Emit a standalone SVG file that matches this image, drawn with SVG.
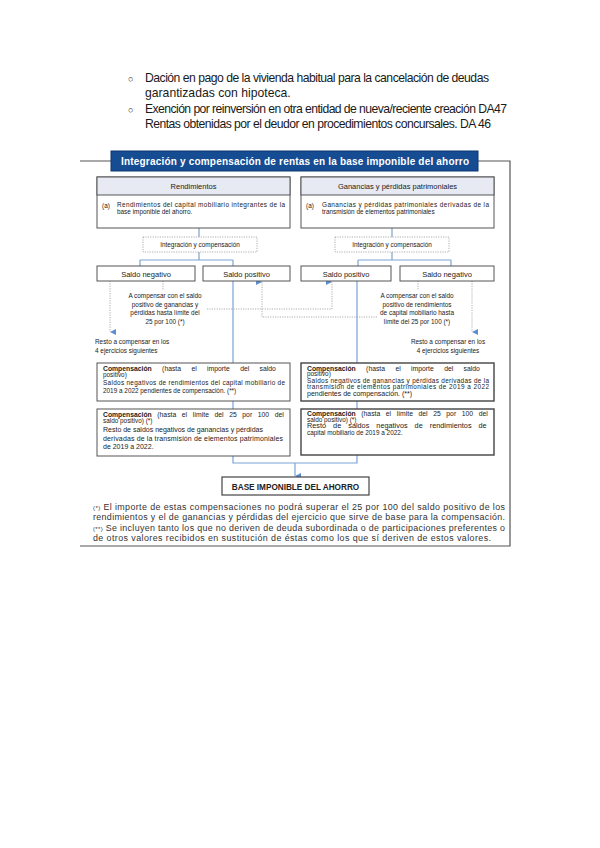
<svg xmlns="http://www.w3.org/2000/svg" width="600" height="848" viewBox="0 0 600 848">
<defs>
<style>
text{font-family:"Liberation Sans",Arial,sans-serif;fill:#222}
.top{font-size:12.2px;fill:#1a1a1a}
.box{fill:#fff;stroke:#555;stroke-width:1}
.boxd{fill:#fff;stroke:#444;stroke-width:1.4}
.hdr{fill:#e7e9f3;stroke:#555;stroke-width:1}
.dot{fill:none;stroke:#999;stroke-width:0.8;stroke-dasharray:1.2 1.2}
.blue{fill:none;stroke:#7aa3d6;stroke-width:1.2}
.frame{fill:none;stroke:#555;stroke-width:1.2}
.s7{font-size:7.5px}
.s6{font-size:6.4px}
.s68{font-size:6.8px}
.s8{font-size:8.9px;fill:#333}
.c{text-anchor:middle}
.b{font-weight:bold}
</style>
<marker id="ah" viewBox="0 0 10 10" refX="5" refY="10" markerWidth="6" markerHeight="6" orient="auto-start-reverse" markerUnits="userSpaceOnUse">
<path d="M0,0 L10,0 L5,10 z" fill="#5a8ed0"/>
</marker>
</defs>
<rect width="600" height="848" fill="#fff"/>

<g id="bullets">
<text class="top" x="128" y="82" style="font-size:9px">○</text>
<text class="top" x="145" y="82" textLength="344" lengthAdjust="spacing">Dación en pago de la vivienda habitual para la cancelación de deudas</text>
<text class="top" x="145" y="97">garantizadas con hipoteca.</text>
<text class="top" x="128" y="113" style="font-size:9px">○</text>
<text class="top" x="145" y="113" textLength="362" lengthAdjust="spacing">Exención por reinversión en otra entidad de nueva/reciente creación DA47</text>
<text class="top" x="145" y="128" textLength="346" lengthAdjust="spacing">Rentas obtenidas por el deudor en procedimientos concursales. DA 46</text>
</g>

<g id="frame">
<path class="frame" d="M80,161 H111 M478,161 H510 V546 H80"/>
</g>
<g id="title">
<rect x="111" y="151" width="367" height="20" fill="#154c92" stroke="#0c3670" stroke-width="1"/>
<text x="121" y="165" style="font-size:10px;font-weight:bold;fill:#fff" textLength="348" lengthAdjust="spacing">Integración y compensación de rentas en la base imponible del ahorro</text>
</g>

<g id="connectors">
<path class="blue" d="M199,228 V237 M199,252 V260 M140,260 H233 M140,260 V266 M233,260 V266"/>
<path class="blue" d="M392,228 V237 M392,252 V260 M358,260 H451 M358,260 V266 M451,260 V266"/>
<path class="blue" d="M233,281 V463 H357 V281"/>
<path class="blue" d="M295,463 V476" marker-end="url(#ah)"/>
<path class="dot" d="M163,281 V290"/>
<path class="dot" d="M110,281 V332" marker-end="url(#ah)"/>
<path class="dot" d="M418,281 V290"/>
<path class="dot" d="M472,281 V332" marker-end="url(#ah)"/>
<path class="dot" d="M207,309 H332 V282" marker-end="url(#ah)"/>
<path class="dot" d="M377,317 H262 V282" marker-end="url(#ah)"/>
</g>

<g id="rendimientos">
<rect class="box" x="97" y="177" width="193" height="51"/>
<rect class="hdr" x="97" y="177" width="193" height="18"/>
<text class="s7 c" x="193.5" y="189">Rendimientos</text>
<text class="s6" x="102" y="208">(a)</text>
<text class="s6" x="117" y="207" textLength="168" lengthAdjust="spacing">Rendimientos del capital mobiliario integrantes de la</text>
<text class="s6" x="117" y="214">base imponible del ahorro.</text>
</g>

<g id="ganancias">
<rect class="box" x="301" y="177" width="193" height="51"/>
<rect class="hdr" x="301" y="177" width="193" height="18"/>
<text class="s7 c" x="397.5" y="189">Ganancias y pérdidas patrimoniales</text>
<text class="s6" x="306" y="208">(a)</text>
<text class="s6" x="322" y="207" textLength="167" lengthAdjust="spacing">Ganancias y pérdidas patrimoniales derivadas de la</text>
<text class="s6" x="322" y="214">transmisión de elementos patrimoniales</text>
</g>

<g id="integ-left">
<rect x="143" y="237" width="114" height="15" fill="#fff" stroke="#999" stroke-width="0.8" stroke-dasharray="1.2 1.2"/>
<text class="s6 c" x="200" y="247">Integración y compensación</text>
</g>
<g id="integ-right">
<rect x="335" y="237" width="114" height="15" fill="#fff" stroke="#999" stroke-width="0.8" stroke-dasharray="1.2 1.2"/>
<text class="s6 c" x="392" y="247">Integración y compensación</text>
</g>

<g id="saldo-neg-left">
<rect class="box" x="97" y="266" width="98" height="15"/>
<text class="s7 c" x="146" y="276.5">Saldo negativo</text>
</g>
<g id="saldo-pos-left">
<rect class="box" x="203" y="266" width="87" height="15"/>
<text class="s7 c" x="246.5" y="276.5">Saldo positivo</text>
</g>
<g id="saldo-pos-right">
<rect class="box" x="301" y="266" width="90" height="15"/>
<text class="s7 c" x="346" y="276.5">Saldo positivo</text>
</g>
<g id="saldo-neg-right">
<rect class="box" x="400" y="266" width="94" height="15"/>
<text class="s7 c" x="447" y="276.5">Saldo negativo</text>
</g>

<g id="note-left">
<text class="s6 c" x="165" y="298">A compensar con el saldo</text>
<text class="s6 c" x="165" y="306.5">positivo de ganancias y</text>
<text class="s6 c" x="165" y="315">pérdidas hasta límite del</text>
<text class="s6 c" x="165" y="323.5">25 por 100 (*)</text>
</g>
<g id="resto-left">
<text class="s6" x="95" y="344">Resto a compensar en los</text>
<text class="s6" x="95" y="352.5">4 ejercicios siguientes</text>
</g>
<g id="note-right">
<text class="s6 c" x="417" y="298">A compensar con el saldo</text>
<text class="s6 c" x="417" y="306.5">positivo de rendimientos</text>
<text class="s6 c" x="417" y="315">de capital mobiliario hasta</text>
<text class="s6 c" x="417" y="323.5">límite del 25 por 100 (*)</text>
</g>
<g id="resto-right">
<text class="s6 c" x="448" y="344">Resto a compensar en los</text>
<text class="s6 c" x="448" y="352.5">4 ejercicios siguientes</text>
</g>

<g id="comp1-left">
<rect class="box" x="97" y="363" width="193" height="38"/>
<text class="s68" x="103" y="371" word-spacing="8.5"><tspan class="b">Compensación</tspan> (hasta el importe del saldo</text>
<text class="s6" x="103" y="377">positivo)</text>
<text class="s6" x="103" y="384.5" textLength="182" lengthAdjust="spacing">Saldos negativos de rendimientos del capital mobiliario de</text>
<text class="s6" x="103" y="392.5">2019 a 2022 pendientes de compensación. (**)</text>
</g>
<g id="comp2-left">
<rect class="box" x="97" y="409" width="193" height="47"/>
<text class="s68" x="103" y="417" word-spacing="3.7"><tspan class="b">Compensación</tspan> (hasta el límite del 25 por 100 del</text>
<text class="s6" x="103" y="423">saldo positivo) (*)</text>
<text x="103" y="432" style="font-size:7px">Resto de saldos negativos de ganancias y pérdidas</text>
<text x="103" y="440.5" style="font-size:7px" textLength="180" lengthAdjust="spacing">derivadas de la transmisión de elementos patrimoniales</text>
<text x="103" y="449" style="font-size:7px">de 2019 a 2022.</text>
</g>
<g id="comp1-right">
<rect class="boxd" x="301" y="363" width="193" height="38"/>
<text class="s68" x="307" y="370.5" word-spacing="8.5"><tspan class="b">Compensación</tspan> (hasta el importe del saldo</text>
<text class="s6" x="307" y="376">positivo)</text>
<text class="s6" x="307" y="382.5" textLength="182" lengthAdjust="spacing">Saldos negativos de ganancias y pérdidas derivadas de la</text>
<text class="s6" x="307" y="388.5" textLength="182" lengthAdjust="spacing">transmisión de elementos patrimoniales de 2019 a 2022</text>
<text x="307" y="395.5" style="font-size:7px">pendientes de compensación. (**)</text>
</g>
<g id="comp2-right">
<rect class="boxd" x="301" y="409" width="193" height="46"/>
<text class="s68" x="307" y="416" word-spacing="3.7"><tspan class="b">Compensación</tspan> (hasta el límite del 25 por 100 del</text>
<text class="s6" x="307" y="421.5">saldo positivo) (*)</text>
<text x="307" y="428" style="font-size:7.3px" word-spacing="5">Resto de saldos negativos de rendimientos de</text>
<text class="s6" x="307" y="434.5">capital mobiliario de 2019 a 2022.</text>
</g>

<g id="base">
<rect x="222" y="477" width="147" height="18" fill="#fff" stroke="#444" stroke-width="1.2"/>
<text class="c b" x="295.5" y="489.5" style="font-size:8.2px">BASE IMPONIBLE DEL AHORRO</text>
</g>

<g id="footnotes">
<text class="s8" x="93" y="510" textLength="412" lengthAdjust="spacing"><tspan style="font-size:6px">(*)</tspan> El importe de estas compensaciones no podrá superar el 25 por 100 del saldo positivo de los</text>
<text class="s8" x="93" y="520" textLength="412" lengthAdjust="spacing">rendimientos y el de ganancias y pérdidas del ejercicio que sirve de base para la compensación.</text>
<text class="s8" x="93" y="531" textLength="412" lengthAdjust="spacing"><tspan style="font-size:6px">(**)</tspan> Se incluyen tanto los que no deriven de deuda subordinada o de participaciones preferentes o</text>
<text class="s8" x="93" y="541" textLength="398" lengthAdjust="spacing">de otros valores recibidos en sustitución de éstas como los que sí deriven de estos valores.</text>
</g>
</svg>
